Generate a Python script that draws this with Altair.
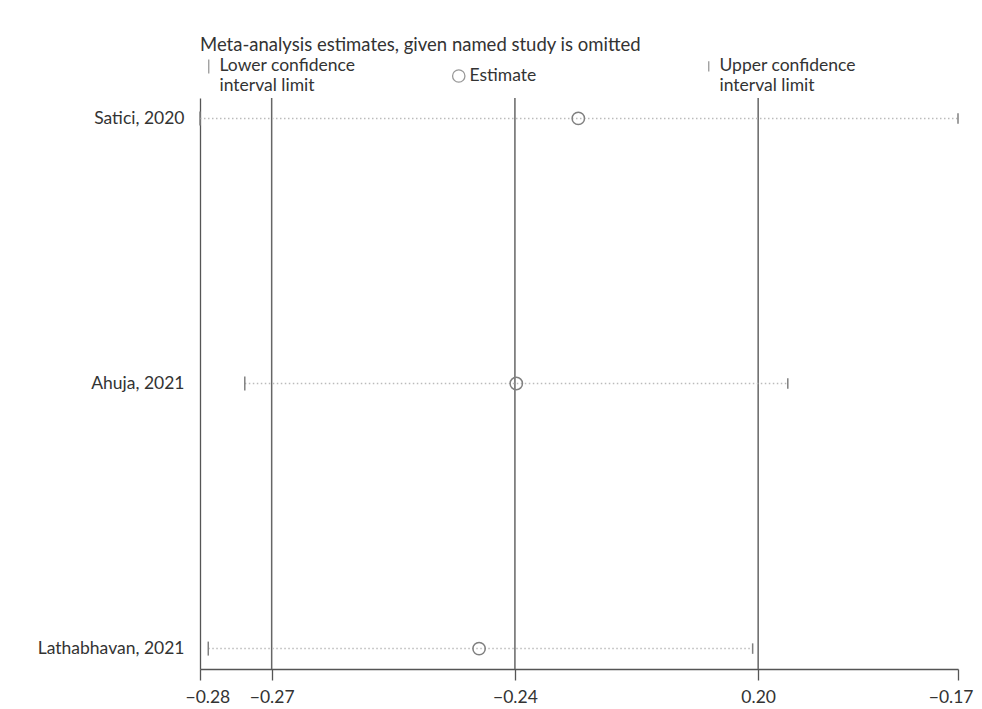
import json
import altair as alt
import pandas as pd

# ---- data ----
studies = ["Satici, 2020", "Ahuja, 2021", "Lathabhavan, 2021"]
estimates = [-0.2283, -0.2373, -0.2427]
lower = [-0.2832, -0.2767, -0.2820]
upper = [-0.1732, -0.1979, -0.2030]

# overall meta-analysis lower limit, estimate, upper limit (reference lines)
overall = [-0.2728, -0.2375, -0.2022]

# x-axis ticks and the labels printed under them
tick_values = [-0.2832, -0.2728, -0.2375, -0.2022, -0.1732]
tick_labels = ["\u22120.28", "\u22120.27", "\u22120.24", "0.20", "\u22120.17"]

kinds = ["Lower confidence|interval limit", "Estimate", "Upper confidence|interval limit"]

# ---- tables ----
df = pd.DataFrame({"study": studies, "est": estimates, "lo": lower, "hi": upper})
long_rows = []
for s, lo, e, hi in zip(studies, lower, estimates, upper):
    long_rows.append({"study": s, "kind": kinds[0], "value": lo})
    long_rows.append({"study": s, "kind": kinds[1], "value": e})
    long_rows.append({"study": s, "kind": kinds[2], "value": hi})
long_df = pd.DataFrame(long_rows)
ref_df = pd.DataFrame({"value": overall})

label_expr = (json.dumps(tick_labels, ensure_ascii=False)
              + "[indexof(" + json.dumps(tick_values) + ", datum.value)]")

FONT = "Lato"

x_scale = alt.Scale(domain=[tick_values[0], tick_values[-1]], nice=False, zero=False)
x_axis = alt.Axis(
    title=None, values=tick_values, labelExpr=label_expr, grid=False,
    tickSize=11, tickColor="#555", tickWidth=1.3, domain=True, domainColor="#555", domainWidth=1.5,
    labelFont=FONT, labelFontSize=17.5, labelColor="#333", labelPadding=8,
    labelFlush=True, labelFlushOffset=15,
)
y_enc = alt.Y(
    "study:N", sort=studies, scale=alt.Scale(type="point", padding=0.077),
    axis=alt.Axis(title=None, ticks=False, domainColor="#555", domainWidth=1.3,
                  labelFont=FONT, labelFontSize=17.5, labelColor="#333",
                  labelPadding=16),
)

ci = alt.Chart(df).mark_rule(color="#bbb", strokeWidth=1.5, strokeDash=[1.5, 2.5]).encode(
    x=alt.X("lo:Q", scale=x_scale, axis=x_axis),
    x2="hi:Q",
    y=y_enc,
)

refs = alt.Chart(ref_df).mark_rule(color="#666", strokeWidth=1.5).encode(
    x=alt.X("value:Q", scale=x_scale, axis=x_axis),
)

legend = alt.Legend(
    title="Meta-analysis estimates, given named study is omitted",
    orient="none", legendX=0, legendY=-62, direction="horizontal", columns=3,
    gridAlign="all", columnPadding=93, labelExpr="split(datum.label, '|')",
    labelFont=FONT, labelFontSize=17.5, labelColor="#333", labelLimit=300,
    titleFont=FONT, titleFontSize=18.5, titleFontWeight="normal", titleColor="#333",
    titlePadding=3, titleLimit=600, symbolStrokeWidth=1.3, symbolStrokeColor="#999",
    labelOffset=2,
)

markers = alt.Chart(long_df).mark_point(filled=False, strokeWidth=1.5, color="#808080", opacity=1).encode(
    x=alt.X("value:Q", scale=x_scale, axis=x_axis),
    y=alt.Y("study:N", sort=studies),
    shape=alt.Shape("kind:N", scale=alt.Scale(domain=kinds, range=["M0,-1L0,1", "circle", "M0,-1L0,1"]),
                    legend=legend),
    size=alt.Size("kind:N", scale=alt.Scale(domain=kinds, range=[196, 110, 196]), legend=legend),
)

chart = alt.layer(refs, ci, markers).properties(
    width=758, height=571,
    autosize=alt.AutoSizeParams(type="none"),
    padding={"left": 192, "top": 90, "right": 16, "bottom": 38},
).configure(background="white").configure_view(stroke=None)

chart.save("out.html", embed_options={"renderer": "svg", "actions": False})
